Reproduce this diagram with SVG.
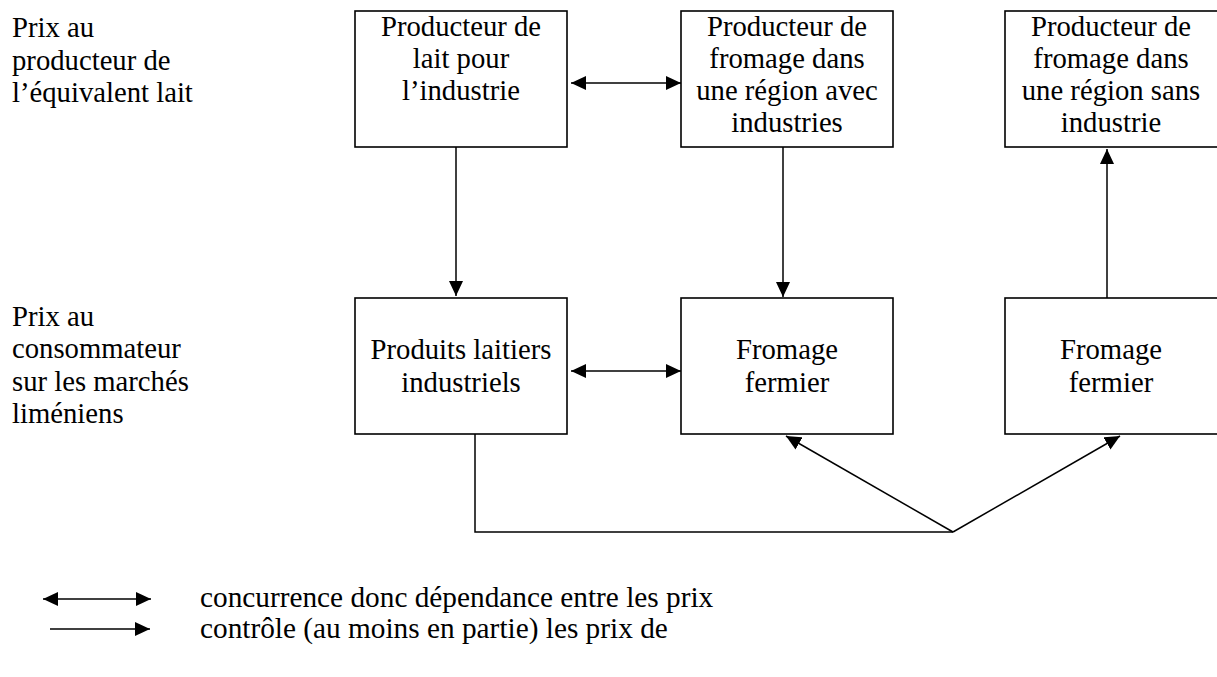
<svg xmlns="http://www.w3.org/2000/svg" width="1217" height="677" viewBox="0 0 1217 677">
<style>
.t{font-family:'Liberation Serif','Times New Roman',Times,'DejaVu Serif',serif;font-size:28.7px;fill:#000}
.lg{font-size:29.3px}
.c{text-anchor:middle}
.box{fill:#fff;stroke:#000;stroke-width:1.6}
.ln{fill:none;stroke:#000;stroke-width:1.5}
</style>
<defs>
<marker id="ah" markerUnits="userSpaceOnUse" markerWidth="16" markerHeight="14" refX="15" refY="7" orient="auto-start-reverse">
<path d="M0,0 L15,7 L0,14 z" fill="#000"/>
</marker>
</defs>
<rect width="1217" height="677" fill="#fff"/>
<g id="label-top" class="t">
<text x="12" y="37">Prix au</text>
<text x="12" y="70">producteur de</text>
<text x="12" y="102">l’équivalent lait</text>
</g>
<g id="label-bottom" class="t">
<text x="12" y="326">Prix au</text>
<text x="12" y="358">consommateur</text>
<text x="12" y="391">sur les marchés</text>
<text x="12" y="423">liméniens</text>
</g>
<g id="n1">
<rect class="box" x="355" y="11" width="212" height="136"/>
<g class="t c">
<text x="461" y="36">Producteur de</text>
<text x="461" y="68">lait pour</text>
<text x="461" y="100">l’industrie</text>
</g>
</g>
<g id="n2">
<rect class="box" x="681" y="11" width="212" height="136"/>
<g class="t c">
<text x="787" y="36">Producteur de</text>
<text x="787" y="68">fromage dans</text>
<text x="787" y="100">une région avec</text>
<text x="787" y="132">industries</text>
</g>
</g>
<g id="n3">
<rect class="box" x="1005" y="11" width="214" height="136"/>
<g class="t c">
<text x="1111" y="36">Producteur de</text>
<text x="1111" y="68">fromage dans</text>
<text x="1111" y="100">une région sans</text>
<text x="1111" y="132">industrie</text>
</g>
</g>
<g id="n4">
<rect class="box" x="355" y="298" width="212" height="136"/>
<g class="t c">
<text x="461" y="359">Produits laitiers</text>
<text x="461" y="392">industriels</text>
</g>
</g>
<g id="n5">
<rect class="box" x="681" y="298" width="212" height="136"/>
<g class="t c">
<text x="787" y="359">Fromage</text>
<text x="787" y="392">fermier</text>
</g>
</g>
<g id="n6">
<rect class="box" x="1005" y="298" width="214" height="136"/>
<g class="t c">
<text x="1111" y="359">Fromage</text>
<text x="1111" y="392">fermier</text>
</g>
</g>
<g id="connectors">
<line class="ln" x1="571" y1="83" x2="681" y2="83" marker-start="url(#ah)" marker-end="url(#ah)"/>
<line class="ln" x1="571" y1="371" x2="681" y2="371" marker-start="url(#ah)" marker-end="url(#ah)"/>
<line class="ln" x1="456" y1="147" x2="456" y2="296" marker-end="url(#ah)"/>
<line class="ln" x1="783" y1="147" x2="783" y2="297" marker-end="url(#ah)"/>
<line class="ln" x1="1107" y1="298" x2="1107" y2="149" marker-end="url(#ah)"/>
<polyline class="ln" points="475,434 475,532 953,532"/>
<line class="ln" x1="953" y1="532" x2="786" y2="436" marker-end="url(#ah)"/>
<line class="ln" x1="953" y1="532" x2="1120" y2="436" marker-end="url(#ah)"/>
</g>
<g id="legend">
<line class="ln" x1="43" y1="599" x2="151" y2="599" marker-start="url(#ah)" marker-end="url(#ah)"/>
<line class="ln" x1="50" y1="629" x2="150" y2="629" marker-end="url(#ah)"/>
<g class="t lg">
<text x="200" y="607">concurrence donc dépendance entre les prix</text>
<text x="200" y="638">contrôle (au moins en partie) les prix de</text>
</g>
</g>
</svg>
